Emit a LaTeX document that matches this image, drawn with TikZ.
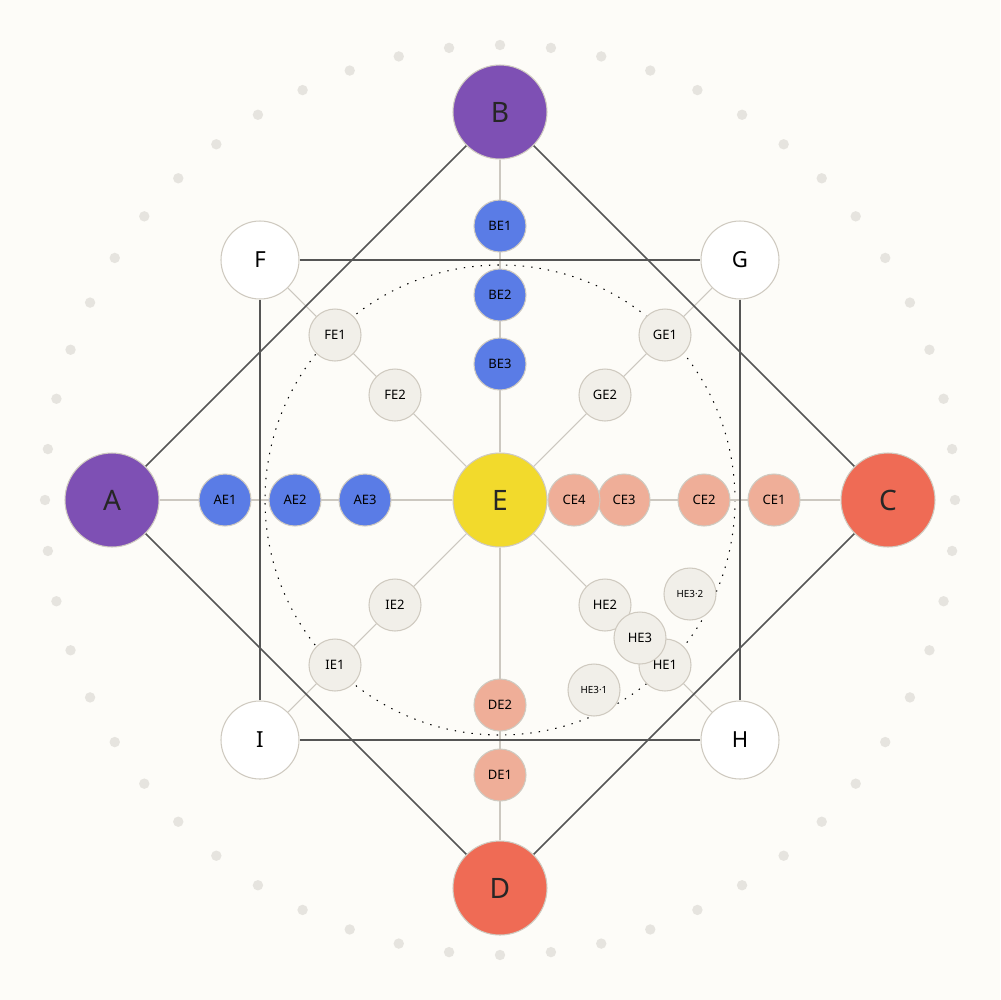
\documentclass[tikz,border=0pt]{standalone}
\usepackage{fontspec}
\setmainfont{Noto Sans}
\definecolor{bgcol}{HTML}{FDFCF8}
\definecolor{purp}{HTML}{7E50B4}
\definecolor{blu}{HTML}{5A7CE6}
\definecolor{cor}{HTML}{EF6B55}
\definecolor{lcor}{HTML}{EFAE98}
\definecolor{yel}{HTML}{F2DA2C}
\definecolor{pale}{HTML}{F1EFE9}
\definecolor{rim}{HTML}{CFCAC0}
\definecolor{dotc}{HTML}{E6E4DF}
\definecolor{edge}{HTML}{555555}
\definecolor{thin}{HTML}{CCC8C0}
\pgfdeclarelayer{bg}
\pgfdeclarelayer{lines}
\pgfsetlayers{bg,lines,main}
\tikzset{
  hub/.style={circle,draw=rim,line width=0.3pt,minimum size=9.4mm,inner sep=0pt,font=\fontsize{8}{8}\selectfont\color{black!85}},
  ring/.style={circle,draw=rim,line width=0.3pt,fill=white,minimum size=7.8mm,inner sep=0pt,font=\fontsize{6.3}{6.3}\selectfont},
  leaf/.style={circle,draw=rim,line width=0.3pt,minimum size=5.2mm,inner sep=0pt,font=\fontsize{3.7}{3.7}\selectfont},
  tiny/.style={leaf,fill=pale,font=\fontsize{2.8}{2.8}\selectfont},
  dark/.style={draw=edge,line width=0.45pt},
  soft/.style={draw=thin,line width=0.3pt}
}
\begin{document}
\begin{tikzpicture}[x=0.1mm,y=-0.1mm]
\begin{pgfonlayer}{bg}
\fill[bgcol] (0,0) rectangle (1000,1000);
% background dots
\foreach \k in {0,...,55}
  \fill[dotc] ({500+455*cos(\k*6.42857)},{500+455*sin(\k*6.42857)}) circle (5.2);
\draw[thin,dotted,line width=0.3pt] (500,500) circle (235);
\end{pgfonlayer}
\useasboundingbox (0,0) rectangle (1000,1000);
% main nodes
\node[hub,fill=yel] (E) at (500,500) {E};
\node[hub,fill=purp] (A) at (112,500) {A};
\node[hub,fill=purp] (B) at (500,112) {B};
\node[hub,fill=cor] (C) at (888,500) {C};
\node[hub,fill=cor] (D) at (500,888) {D};
\node[ring] (F) at (260,260) {F};
\node[ring] (G) at (740,260) {G};
\node[ring] (H) at (740,740) {H};
\node[ring] (I) at (260,740) {I};
% spokes and frames
\begin{pgfonlayer}{lines}
\foreach \t in {A,B,C,D,F,G,H,I}
  \draw[soft] (E) -- (\t);
\draw[dark] (A) -- (B) -- (C) -- (D) -- (A);
\draw[dark] (F) -- (G) -- (H) -- (I) -- (F);
\end{pgfonlayer}
% chains
\foreach \n/\x in {AE1/225,AE2/295,AE3/365}
  \node[leaf,fill=blu] (\n) at (\x,500) {\n};
\foreach \n/\y in {BE1/226,BE2/295,BE3/364}
  \node[leaf,fill=blu] (\n) at (500,\y) {\n};
\foreach \n/\x in {CE1/774,CE2/704,CE3/624,CE4/574}
  \node[leaf,fill=lcor] (\n) at (\x,500) {\n};
\foreach \n/\y in {DE2/705,DE1/775}
  \node[leaf,fill=lcor] (\n) at (500,\y) {\n};
\node[leaf,fill=pale] (FE1) at (335,335) {FE1};
\node[leaf,fill=pale] (FE2) at (395,395) {FE2};
\node[leaf,fill=pale] (GE1) at (665,335) {GE1};
\node[leaf,fill=pale] (GE2) at (605,395) {GE2};
\node[leaf,fill=pale] (IE1) at (335,665) {IE1};
\node[leaf,fill=pale] (IE2) at (395,605) {IE2};
\node[leaf,fill=pale] (HE1) at (665,665) {HE1};
\node[leaf,fill=pale] (HE2) at (605,605) {HE2};
\node[leaf,fill=pale] (HE3) at (640,638) {HE3};
\node[tiny] (HE32) at (690,594) {HE3·2};
\node[tiny] (HE31) at (594,690) {HE3·1};
\end{tikzpicture}
\end{document}
